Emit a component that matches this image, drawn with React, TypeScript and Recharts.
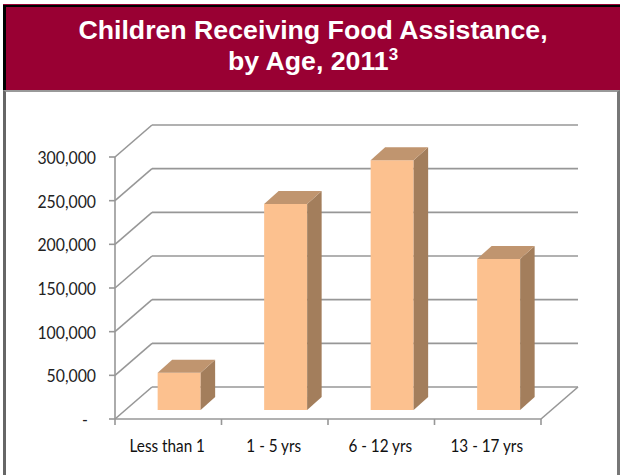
import { BarChart, Bar, XAxis, YAxis, CartesianGrid } from 'recharts';

const categories = ['Less than 1', '1 - 5 yrs', '6 - 12 yrs', '13 - 17 yrs'];
const children = [42700, 236000, 286000, 173000];
const valueTicks = [0, 50000, 100000, 150000, 200000, 250000, 300000];
const titleLines = ['Children Receiving Food Assistance,', 'by Age, 2011'];

const chartData = categories.map((name, i) => ({ name, children: children[i] }));

const WIDTH = 621;
const HEIGHT = 475;
const AXIS_LEFT = 115;
const AXIS_BOTTOM = 56;
const RIGHT_GAP = 80;
const BAND = (WIDTH - AXIS_LEFT - RIGHT_GAP) / categories.length;

// depth of the fake 3D box
const WALL_DX = 37;
const WALL_DY = 32;
const BAR_SHIFT_X = 10.7;
const BAR_SHIFT_Y = 9;
const BAR_DX = 14.5;
const BAR_DY = 13;

const GRID_COLOR = '#979797';
const LABEL_FONT = 'Lato, sans-serif';

function WallLine(props: any) {
  const { x1, x2, y1 } = props;
  const isFloor = Math.round(y1) === HEIGHT - AXIS_BOTTOM;
  return (
    <g stroke={GRID_COLOR} strokeWidth={1.6} fill="none">
      <line x1={x1} y1={y1} x2={x1 + WALL_DX} y2={y1 - WALL_DY} />
      <line x1={x1 + WALL_DX} y1={y1 - WALL_DY} x2={x2 + WALL_DX} y2={y1 - WALL_DY} />
      {isFloor && <line x1={x2} y1={y1} x2={x2 + WALL_DX} y2={y1 - WALL_DY} />}
    </g>
  );
}

function Box3D(props: any) {
  const { x, y, width, height } = props;
  const left = x + BAR_SHIFT_X;
  const right = left + width;
  const top = y - BAR_SHIFT_Y;
  const bottom = top + height;
  return (
    <g>
      <rect x={left} y={top} width={width} height={height} fill="#FCC18F" />
      <polygon
        points={`${right},${top} ${right + BAR_DX},${top - BAR_DY} ${right + BAR_DX},${bottom - BAR_DY} ${right},${bottom}`}
        fill="#A37E5C"
      />
      <polygon
        points={`${left},${top} ${left + BAR_DX},${top - BAR_DY} ${right + BAR_DX},${top - BAR_DY} ${right},${top}`}
        fill="#C0956F"
      />
    </g>
  );
}

function ValueTick(props: any) {
  const { x, y, payload } = props;
  const isZero = payload.value === 0;
  return (
    <g>
      <line x1={AXIS_LEFT - 6} x2={AXIS_LEFT} y1={y} y2={y} stroke={GRID_COLOR} strokeWidth={1.6} />
      <text
        transform={`translate(${isZero ? 88 : 96} ${y + 7}) scale(0.93 1)`}
        textAnchor="end"
        fontFamily={LABEL_FONT}
        fontSize={17}
        fill="#222"
      >
        {isZero ? '-' : payload.value.toLocaleString('en-US')}
      </text>
    </g>
  );
}

function CategoryTick(props: any) {
  const { x, y, payload, index } = props;
  const last = index === categories.length - 1;
  return (
    <g>
      <g stroke={GRID_COLOR} strokeWidth={1.6}>
        <line x1={x - BAND / 2} x2={x - BAND / 2} y1={y - 8} y2={y - 2} />
        {last && <line x1={x + BAND / 2} x2={x + BAND / 2} y1={y - 8} y2={y - 2} />}
      </g>
      <text
        transform={`translate(${x - 1} ${y + 25}) scale(0.85 1)`}
        textAnchor="middle"
        fontFamily={LABEL_FONT}
        fontSize={18}
        fill="#111"
      >
        {payload.value}
      </text>
    </g>
  );
}

export default function App() {
  return (
    <div style={{ position: 'absolute', left: 0, top: 0, width: WIDTH, height: HEIGHT, background: '#fff', overflow: 'hidden' }}>
      {/* header band */}
      <div style={{ position: 'absolute', left: 3, top: 4, width: 617, height: 1.5, background: '#990033' }} />
      <div
        style={{
          position: 'absolute',
          left: 3,
          top: 5,
          width: 617,
          height: 85,
          boxSizing: 'border-box',
          background: '#990033',
          borderTop: '2px solid #000',
          borderLeft: '3px solid #000',
          color: '#fff',
          fontFamily: '"Liberation Sans", Arial, sans-serif',
          fontWeight: 700,
          fontSize: 26.7,
          lineHeight: '30.5px',
          textAlign: 'center',
          paddingTop: 8,
        }}
      >
        <div>{titleLines[0]}</div>
        <div>
          {titleLines[1]}
          <span style={{ fontSize: 17, position: 'relative', top: -10 }}>3</span>
        </div>
      </div>
      {/* frame round the chart */}
      <div
        style={{
          position: 'absolute',
          left: 3,
          top: 90,
          width: 617,
          height: 385,
          boxSizing: 'border-box',
          borderTop: '2px solid #999',
          borderLeft: '3px solid #666',
          borderRight: '3px solid #777',
        }}
      />
      <div style={{ position: 'absolute', left: 0, top: 0 }}>
        <BarChart
          width={WIDTH}
          height={HEIGHT}
          data={chartData}
          margin={{ top: 157, right: RIGHT_GAP, bottom: 0, left: 0 }}
          barCategoryGap="30%"
        >
          <CartesianGrid vertical={false} horizontal={(p: any) => <WallLine {...p} />} />
          <XAxis
            dataKey="name"
            height={AXIS_BOTTOM}
            axisLine={{ stroke: GRID_COLOR, strokeWidth: 1.6 }}
            tickLine={false}
            interval={0}
            tick={(p: any) => <CategoryTick {...p} />}
          />
          <YAxis
            width={AXIS_LEFT}
            domain={[0, 300000]}
            ticks={valueTicks}
            axisLine={{ stroke: GRID_COLOR, strokeWidth: 1.6 }}
            tickLine={false}
            interval={0}
            tick={(p: any) => <ValueTick {...p} />}
          />
          <Bar dataKey="children" isAnimationActive={false} shape={(p: any) => <Box3D {...p} />} />
        </BarChart>
      </div>
    </div>
  );
}
